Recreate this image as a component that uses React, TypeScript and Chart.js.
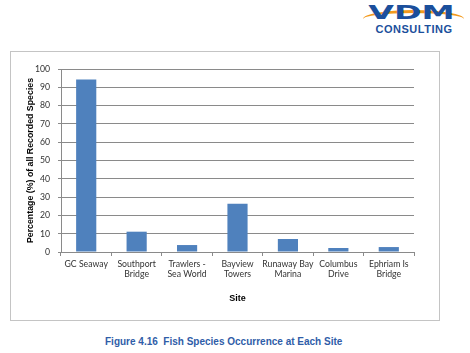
import React, { useEffect, useRef } from "react";
import { Chart, registerables } from "chart.js";

Chart.register(...registerables);

const categories: string[][] = [
  ["GC Seaway"],
  ["Southport", "Bridge"],
  ["Trawlers -", "Sea World"],
  ["Bayview", "Towers"],
  ["Runaway Bay", "Marina"],
  ["Columbus", "Drive"],
  ["Ephriam Is", "Bridge"],
];
const percentages: number[] = [94.2, 11.1, 3.8, 26.3, 7.1, 2.2, 2.7];
const yTicks: number[] = [0, 10, 20, 30, 40, 50, 60, 70, 80, 90, 100];

const AXIS_GRAY = "#8a8a8a";
const BAR_BLUE = "#4f81bd";

export default function App() {
  const ref = useRef<HTMLCanvasElement | null>(null);

  useEffect(() => {
    document.body.style.margin = "0";
    if (!ref.current) return;
    const chart = new Chart(ref.current, {
      type: "bar",
      data: {
        labels: categories,
        datasets: [
          {
            data: percentages,
            backgroundColor: BAR_BLUE,
            borderWidth: 0,
            categoryPercentage: 1,
            barPercentage: 0.4,
          },
        ],
      },
      options: {
        animation: false,
        responsive: false,
        maintainAspectRatio: false,
        layout: { padding: { top: 17, right: 25, left: 10, bottom: 12 } },
        plugins: { legend: { display: false }, tooltip: { enabled: false } },
        scales: {
          x: {
            offset: true,
            grid: {
              offset: true,
              drawOnChartArea: false,
              drawTicks: true,
              tickLength: 4,
              color: AXIS_GRAY,
            },
            border: { color: AXIS_GRAY, width: 1 },
            ticks: {
              color: "#333",
              font: { family: "Lato", size: 8.7 },
              maxRotation: 0,
              autoSkip: false,
              padding: 3,
            },
            title: {
              display: true,
              text: "Site",
              color: "#000",
              font: { family: "Liberation Sans", size: 9, weight: "bold" },
              padding: { top: 6 },
            },
            afterFit: (s: any) => {
              s.height = 56;
            },
          },
          y: {
            min: 0,
            max: 100,
            afterBuildTicks: (s: any) => {
              s.ticks = yTicks.map((v) => ({ value: v }));
            },
            grid: { color: AXIS_GRAY, tickLength: 3 },
            border: { color: AXIS_GRAY, width: 1 },
            ticks: {
              color: "#333",
              font: { family: "Lato", size: 8.7 },
              padding: 8,
            },
            title: {
              display: true,
              text: "Percentage (%) of all Recorded Species",
              color: "#000",
              font: { family: "Liberation Sans", size: 8.8, weight: "bold" },
              padding: { top: 4, bottom: 4 },
            },
            afterFit: (s: any) => {
              s.width = 40;
            },
          },
        },
      },
    });
    return () => chart.destroy();
  }, []);

  return (
    <div
      style={{
        position: "absolute",
        left: 0,
        top: 0,
        width: 470,
        height: 353,
        background: "#fff",
        fontFamily: "Liberation Sans, Arial, sans-serif",
      }}
    >
      {/* Logo */}
      <div style={{ position: "absolute", left: 362, top: 0, width: 104, height: 38 }}>
        <div
          style={{
            position: "absolute",
            left: 1,
            top: 10,
            width: 101,
            height: 18,
            borderRadius: "50%",
            borderTop: "3px solid #f39a1e",
            boxSizing: "border-box",
          }}
        />
        <div
          style={{
            position: "absolute",
            left: 6,
            top: 1,
            width: 87,
            textAlign: "center",
            fontFamily: "DejaVu Sans",
            fontWeight: 900,
            fontSize: 19,
            color: "#1b4f9c",
            transform: "scaleX(1.75)",
            lineHeight: "22px",
          }}
        >
          VDM
        </div>
        <div
          style={{
            position: "absolute",
            left: 11,
            top: 23,
            width: 82,
            textAlign: "center",
            fontFamily: "Liberation Sans",
            fontWeight: "bold",
            fontSize: 11,
            letterSpacing: 0.5,
            color: "#1b4f9c",
            lineHeight: "12px",
          }}
        >
          CONSULTING
        </div>
      </div>

      {/* Chart box */}
      <div
        style={{
          position: "absolute",
          left: 10,
          top: 51,
          width: 428,
          height: 268,
          border: "1px solid #c4c4c4",
        }}
      >
        <canvas ref={ref} width={428} height={268} style={{ display: "block" }} />
      </div>

      {/* Caption */}
      <div
        style={{
          position: "absolute",
          left: 105,
          top: 335,
          fontFamily: "Liberation Sans",
          fontWeight: "bold",
          fontSize: 10,
          lineHeight: "13px",
          color: "#2f5da8",
          whiteSpace: "pre",
        }}
      >
        {"Figure 4.16  Fish Species Occurrence at Each Site"}
      </div>
    </div>
  );
}
